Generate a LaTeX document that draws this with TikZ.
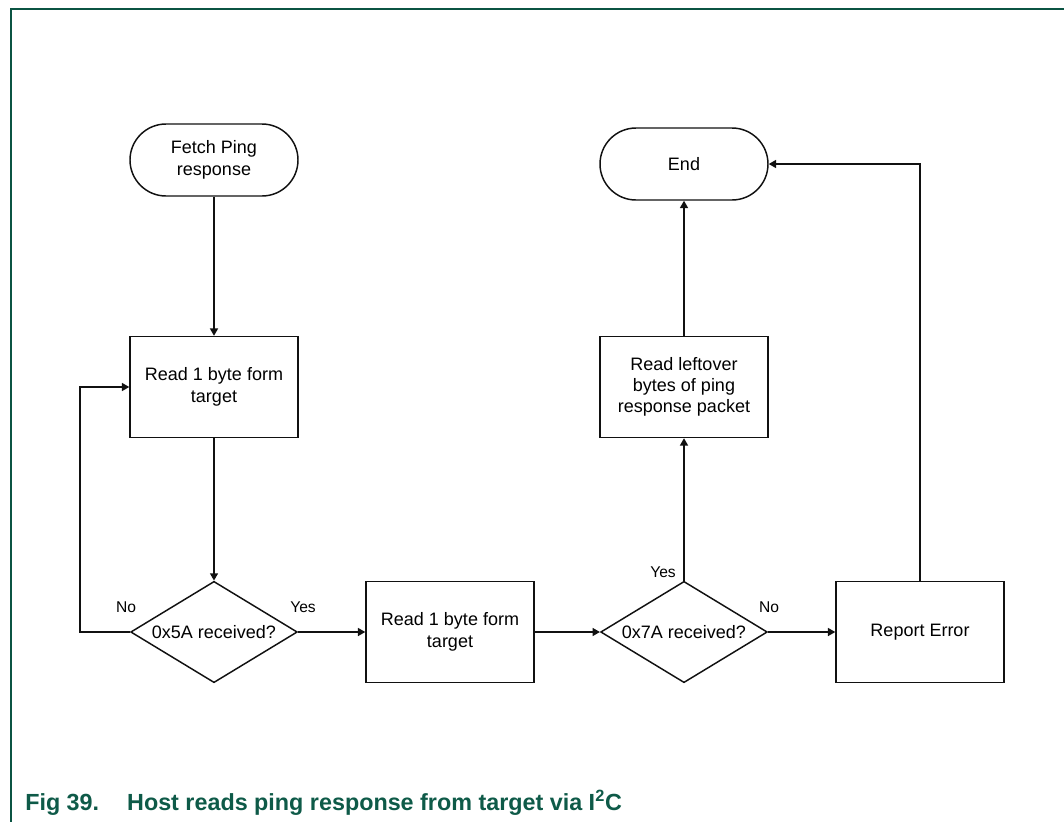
\documentclass[tikz,border=0pt]{standalone}
\usepackage{fontspec}
\setmainfont{Liberation Sans}
\usepackage{tikz}
\usepackage{xcolor}
\usetikzlibrary{arrows.meta,positioning,shapes,calc}
\definecolor{ink}{HTML}{111111}
\definecolor{framegreen}{HTML}{0B5443}
\definecolor{captiongreen}{HTML}{0E5A48}
\tikzset{
  terminal/.style={draw=ink,fill=white,line width=1.1pt,rounded corners=27pt,
                   minimum width=126pt,minimum height=54pt,inner sep=2pt,
                   align=center,font=\fontsize{13.5}{16}\selectfont},
  stepbox/.style={draw=ink,fill=white,line width=1.1pt,
                  minimum width=126pt,minimum height=75.75pt,inner sep=2pt,
                  align=center,font=\fontsize{13.5}{16}\selectfont},
  decision/.style={draw=ink,fill=white,line width=1.1pt,diamond,aspect=1.66,
                   minimum width=125pt,minimum height=76pt,inner sep=0pt,
                   align=center,font=\fontsize{13.5}{16}\selectfont},
  branch/.style={font=\fontsize{11.7}{14}\selectfont,inner sep=0pt},
  flowarr/.style={-{Triangle[length=5.5pt,width=6pt]},line width=1.1pt,color=ink}
}

\begin{document}
\begin{tikzpicture}[x=0.75pt,y=-0.75pt,>=Latex]
  \useasboundingbox (0,0) rectangle (1064,822);
  % frame
  \draw[framegreen,line width=1pt] (1064,9) -- (11,9) -- (11,822);

  \node[terminal] (fetch) at (214,160) {Fetch Ping\\response};
  \node[stepbox] (readA) at (214,387) {Read 1 byte form\\target};
  \node[decision] (chkA) at (214,632) {0x5A received?};
  \node[stepbox] (readB) at (450,632) {Read 1 byte form\\target};
  \node[decision] (chkB) at (684,632) {0x7A received?};
  \node[stepbox] (readRest) at (684,387) {Read leftover\\bytes of ping\\response packet};
  \node[terminal] (done) at (684,164) {End};
  \node[stepbox] (err) at (920,632) {Report Error};

  \coordinate (loopA) at (80,632);
  \coordinate (loopB) at (80,387);
  \coordinate (errUp) at (920,164);

  \draw[flowarr] (fetch) -- (readA);
  \draw[flowarr] (readA) -- (chkA);
  \draw[flowarr] (chkA.west) -- (loopA) -- (loopB) -- (readA.west);
  \draw[flowarr] (chkA) -- (readB);
  \draw[flowarr] (readB) -- (chkB);
  \draw[flowarr] (chkB) -- (readRest);
  \draw[flowarr] (readRest) -- (done);
  \draw[flowarr] (chkB) -- (err);
  \draw[flowarr] (err.north) -- (errUp) -- (done.east);

  \node[branch] (noA) at (126,607) {No};
  \node[branch] (yesA) at (303,607) {Yes};
  \node[branch] (yesB) at (663,572) {Yes};
  \node[branch] (noB) at (769,607) {No};

  \node[anchor=base west,inner sep=0pt,text=captiongreen,
        font=\fontsize{17.5}{20}\selectfont\bfseries] (caption) at (25,810)
    {Fig 39.\hspace{21pt}Host reads ping response from target via I\textsuperscript{2}C};
\end{tikzpicture}
\end{document}
